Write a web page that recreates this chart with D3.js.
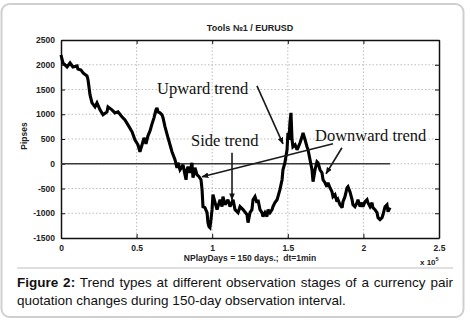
<!DOCTYPE html>
<html><head><meta charset="utf-8">
<script src="https://cdn.jsdelivr.net/npm/d3@7/dist/d3.min.js"></script>
<style>
html,body{margin:0;padding:0;background:#fff;}
svg{display:block;}
</style></head>
<body>
<script>
// ---- data ----
const xs = [0,0.013,0.040,0.060,0.079,0.106,0.112,0.132,0.146,0.172,0.179,0.192,0.205,0.225,0.238,0.258,0.278,0.304,0.311,0.337,0.357,0.377,0.403,0.423,0.443,0.470,0.489,0.509,0.522,0.536,0.549,0.562,0.575,0.589,0.602,0.615,0.628,0.635,0.642,0.655,0.668,0.675,0.688,0.708,0.721,0.734,0.754,0.767,0.774,0.787,0.800,0.807,0.820,0.827,0.833,0.840,0.853,0.866,0.873,0.886,0.899,0.913,0.926,0.933,0.939,0.952,0.966,0.972,0.979,0.985,0.992,0.999,1.005,1.019,1.032,1.038,1.052,1.065,1.071,1.085,1.104,1.118,1.138,1.151,1.171,1.184,1.204,1.230,1.237,1.250,1.263,1.270,1.283,1.296,1.303,1.316,1.329,1.336,1.349,1.362,1.369,1.382,1.396,1.402,1.415,1.429,1.435,1.448,1.462,1.468,1.481,1.495,1.501,1.508,1.514,1.521,1.528,1.534,1.548,1.561,1.567,1.581,1.594,1.601,1.614,1.627,1.634,1.647,1.660,1.667,1.680,1.693,1.700,1.713,1.726,1.733,1.746,1.759,1.766,1.779,1.792,1.799,1.812,1.825,1.832,1.845,1.859,1.865,1.878,1.892,1.898,1.911,1.925,1.931,1.944,1.958,1.964,1.978,1.991,1.997,2.011,2.024,2.030,2.044,2.057,2.063,2.077,2.090,2.097,2.110,2.123,2.130,2.143,2.156,2.163,2.176];
const pips = [2197,2036,1956,2036,1956,1976,1915,1895,1835,1774,1693,1391,1230,1149,1230,1089,988,1048,1149,1089,1028,1048,948,887,786,645,484,383,242,383,524,403,564,665,806,927,1089,1129,1048,1028,988,927,746,524,383,242,81,-81,20,-121,-60,-20,-222,-323,-121,-60,-181,20,-282,-81,-222,-262,-323,-524,-867,-887,-988,-1189,-1270,-1290,-1129,-927,-625,-786,-927,-867,-726,-867,-665,-827,-726,-867,-726,-927,-988,-867,-927,-1028,-1189,-988,-927,-726,-665,-786,-726,-927,-988,-1068,-988,-1068,-927,-988,-927,-867,-786,-726,-665,-524,-323,-121,20,282,625,484,827,1028,484,343,383,282,323,423,544,625,484,343,282,81,-121,-363,-121,40,20,-121,-181,-323,-383,-464,-383,-484,-564,-665,-625,-766,-726,-827,-887,-766,-665,-484,-464,-564,-726,-827,-867,-786,-726,-867,-786,-867,-766,-726,-786,-867,-786,-887,-927,-988,-1089,-1129,-1089,-1028,-867,-827,-968,-887];

const xTicks = [0,0.5,1,1.5,2,2.5];
const xTickLabels = ["0","0.5","1","1.5","2","2.5"];
const yTicks = [-1500,-1000,-500,0,500,1000,1500,2000,2500];
const yTickLabels = ["-1500","-1000","-500","0","500","1000","1500","2000","2500"];

const title = "Tools №1 / EURUSD";
const xLabel = "NPlayDays = 150 days.;  dt=1min";
const yLabel = "Pipses";
const xExp = "5";

const annText = ["Upward trend","Side trend","Downward trend"];
const annTextX = [0.635,0.860,1.680];
const annTextY = [1411,363,464];
// arrows: from (x1,y1) to (x2,y2) in data units
const arrX1 = [1.296,1.131,1.799,1.858];
const arrY1 = [1572,222,403,323];
const arrX2 = [1.468,1.131,0.933,1.753];
const arrY2 = [403,-726,-262,-202];

const captionBold = "Figure 2:";
const captionLine1 = "Trend types at different observation stages of a currency pair";
const captionLine2 = "quotation changes during 150-day observation interval.";

// ---- drawing ----
const W = 471, H = 320;
const m = {l:61, r:32, t:40, b:82};
const svg = d3.select("body").append("svg").attr("width",W).attr("height",H);

svg.append("rect").attr("x",1.5).attr("y",4).attr("width",W-9).attr("height",H-7)
  .attr("rx",8).attr("fill","#fff").attr("stroke","#cfcfcf").attr("stroke-width",2);

const x = d3.scaleLinear().domain([0,2.5]).range([m.l, W-m.r]);
const y = d3.scaleLinear().domain([-1500,2500]).range([H-m.b, m.t]);

const defs = svg.append("defs");
defs.append("marker").attr("id","ah").attr("viewBox","0 0 10 10").attr("refX",9).attr("refY",5)
  .attr("markerWidth",7).attr("markerHeight",7).attr("orient","auto-start-reverse")
  .attr("markerUnits","userSpaceOnUse")
  .append("path").attr("d","M0,1 L10,5 L0,9 z").attr("fill","#111");

const g = svg.append("g");
// grid
g.selectAll(".gx").data(xTicks.slice(1,-1)).enter().append("line")
  .attr("x1",d=>x(d)).attr("x2",d=>x(d)).attr("y1",y(2500)).attr("y2",y(-1500))
  .attr("stroke","#bdbdbd").attr("stroke-width",1).attr("stroke-dasharray","1.5,2");
g.selectAll(".gy").data(yTicks.slice(1,-1)).enter().append("line")
  .attr("y1",d=>y(d)).attr("y2",d=>y(d)).attr("x1",x(0)).attr("x2",x(2.5))
  .attr("stroke","#bdbdbd").attr("stroke-width",1).attr("stroke-dasharray","1.5,2");

// axes (MATLAB-style inner ticks)
const fontAx = "'Liberation Sans', Arial, sans-serif";
const axB = d3.axisBottom(x).tickValues(xTicks).tickFormat((d,i)=>xTickLabels[i]).tickSizeInner(-4).tickSizeOuter(0).tickPadding(7);
const axL = d3.axisLeft(y).tickValues(yTicks).tickFormat((d,i)=>yTickLabels[i]).tickSizeInner(-4).tickSizeOuter(0).tickPadding(6);
const axT = d3.axisTop(x).tickValues(xTicks).tickFormat("").tickSizeInner(-4).tickSizeOuter(0);
const axR = d3.axisRight(y).tickValues(yTicks).tickFormat("").tickSizeInner(-4).tickSizeOuter(0);
function styleAx(sel){
  sel.selectAll("path").attr("stroke","#111").attr("stroke-width",1.5);
  sel.selectAll("line").attr("stroke","#111").attr("stroke-width",1);
  sel.selectAll("text").attr("fill","#222").style("font-family",fontAx).style("font-size","8.5px").style("font-weight","bold");
}
svg.append("g").attr("transform",`translate(0,${y(-1500)})`).call(axB).call(styleAx);
svg.append("g").attr("transform",`translate(${x(0)},0)`).call(axL).call(styleAx);
svg.append("g").attr("transform",`translate(0,${y(2500)})`).call(axT).call(styleAx);
svg.append("g").attr("transform",`translate(${x(2.5)},0)`).call(axR).call(styleAx);

// zero line
svg.append("line").attr("x1",x(0)).attr("x2",x(xs[xs.length-1])).attr("y1",y(0)).attr("y2",y(0))
  .attr("stroke","#3a3a3a").attr("stroke-width",1.6);

// series
const pts = xs.map((v,i)=>[v,pips[i]]);
svg.append("path").datum(pts)
  .attr("d", d3.line().x(d=>x(d[0])).y(d=>y(d[1])))
  .attr("fill","none").attr("stroke","#000").attr("stroke-width",3.1)
  .attr("stroke-linejoin","miter").attr("stroke-miterlimit",2.5);

// annotation arrows
svg.selectAll(".arr").data(arrX1).enter().append("line")
  .attr("x1",(d,i)=>x(arrX1[i])).attr("y1",(d,i)=>y(arrY1[i]))
  .attr("x2",(d,i)=>x(arrX2[i])).attr("y2",(d,i)=>y(arrY2[i]))
  .attr("stroke","#1a1a1a").attr("stroke-width",1.6).attr("marker-end","url(#ah)");

svg.selectAll(".ann").data(annText).enter().append("text")
  .attr("x",(d,i)=>x(annTextX[i])).attr("y",(d,i)=>y(annTextY[i]))
  .text(d=>d).attr("fill","#111")
  .style("font-family","'Liberation Serif','Times New Roman',serif").style("font-size","16.5px");

// title & labels
svg.append("text").attr("x",250).attr("y",31).attr("text-anchor","middle").text(title)
  .attr("fill","#222").style("font-family",fontAx).style("font-size","9px").style("font-weight","bold");
svg.append("text").attr("transform",`translate(27,${(y(2500)+y(-1500))/2 - 3}) rotate(-90)`)
  .attr("text-anchor","middle").text(yLabel)
  .attr("fill","#222").style("font-family",fontAx).style("font-size","8.5px").style("font-weight","bold");
svg.append("text").attr("x",250).attr("y",261).attr("text-anchor","middle").text(xLabel)
  .style("white-space","pre")
  .attr("fill","#222").style("font-family",fontAx).style("font-size","8.5px").style("font-weight","bold");
const ex = svg.append("text").attr("x",420).attr("y",265)
  .attr("fill","#222").style("font-family",fontAx).style("font-size","8px").style("font-weight","bold");
ex.append("tspan").text("x 10");
ex.append("tspan").attr("dy",-4).style("font-size","5.5px").text(xExp);

// separator
svg.append("line").attr("x1",17).attr("x2",453).attr("y1",268).attr("y2",268)
  .attr("stroke","#d4d4d4").attr("stroke-width",1.5);

// caption
const capFont = "'Liberation Sans', Arial, sans-serif";
const c1 = svg.append("text").attr("x",17).attr("y",287).attr("fill","#111")
  .style("font-family",capFont).style("font-size","13.5px");
c1.append("tspan").style("font-weight","bold").text(captionBold);
c1.append("tspan").text(" " + captionLine1);
const wTarget = 453-17;
const w0 = c1.node().getComputedTextLength();
const nSpaces = (captionBold + " " + captionLine1).split(" ").length - 1;
if (w0 < wTarget) c1.attr("word-spacing", (wTarget - w0)/nSpaces);
svg.append("text").attr("x",17).attr("y",305).attr("fill","#111")
  .style("font-family",capFont).style("font-size","13.5px").text(captionLine2);
</script>
</body></html>
